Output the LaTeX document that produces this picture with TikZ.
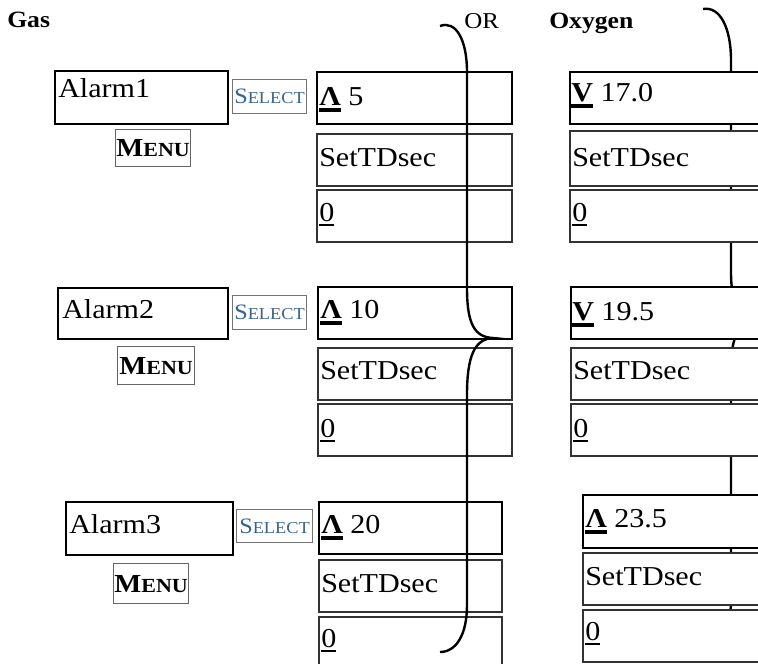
\documentclass[tikz,border=0pt]{standalone}
\usepackage{fontspec}
\setmainfont{Liberation Serif}[FakeStretch=1.1]
\definecolor{selblue}{HTML}{35628F}
\newcommand\thkul[1]{\setbox0\hbox{#1}\rlap{\rule[-5pt]{\wd0}{3pt}}\box0\relax}
\newcommand\thnul[1]{\setbox0\hbox{#1}\rlap{\rule[-3.6pt]{\wd0}{1.1pt}}\box0\relax}
\newcommand\selecttxt{{\fontsize{16.5}{17}\selectfont S\fontsize{12.5}{13}\selectfont ELECT}}
\newcommand\menutxt{{\bfseries\fontsize{19.5}{20}\selectfont M\fontsize{15}{16}\selectfont ENU}}
\tikzset{
  wh/.style 2 args={minimum width=#1*0.75pt, minimum height=#2*0.75pt, anchor=north west, inner sep=0pt},
  alarmbox/.style={draw=black, line width=1.6pt, fill=white},
  upbox/.style={draw=black, line width=1.6pt},
  valbox/.style={draw=black!80, line width=1.5pt},
  oupbox/.style={draw=black, line width=1.6pt, fill=white},
  ovalbox/.style={draw=black!80, line width=1.5pt, fill=white},
  selbox/.style={draw=black!55, line width=0.8pt, text=selblue},
  menubox/.style={draw=black!60, line width=1pt},
  txt/.style={anchor=base west, inner sep=0pt, font=\fontsize{20.5}{22}\selectfont},
  head/.style={anchor=base west, inner sep=0pt, font=\bfseries\fontsize{17.5}{20}\selectfont},
  brace/.style={draw=black, line width=1.8pt},
}
\begin{document}
\begin{tikzpicture}[x=0.75pt, y=-0.75pt]
\useasboundingbox (0,0) rectangle (758,664);
\clip (0,0) rectangle (758,664);
% headings
\node[head] (hgas) at (7,27) {Gas};
\node[anchor=base west, inner sep=0pt, font=\fontsize{17}{19}\selectfont] (hor) at (464,28) {OR};
\node[head] (hoxy) at (549,28) {Oxygen};

% ---- Gas column ----
% row 1
\node[alarmbox, wh={173}{53}] (a1) at (54,70) {};
\node[txt] at ([shift={(4,27)}]a1.north west) {Alarm1};
\node[selbox, wh={74}{34}] (s1) at (232,79) {\selecttxt};
\node[menubox, wh={75}{37}] (m1) at (115,129) {\menutxt};
\node[upbox, wh={195}{52}] (g1a) at (316,71) {};
\node[txt] at ([shift={(3,34)}]g1a.north west) {\thkul{\textbf{Λ}} 5};
\node[valbox, wh={195}{52}] (g1b) at (316,133) {};
\node[txt] at ([shift={(3,33)}]g1b.north west) {SetTDsec};
\node[valbox, wh={195}{52}] (g1c) at (316,189) {};
\node[txt] at ([shift={(3,32)}]g1c.north west) {\thnul{0}};
% row 2
\node[alarmbox, wh={170}{51}] (a2) at (57,287) {};
\node[txt] at ([shift={(5,31)}]a2.north west) {Alarm2};
\node[selbox, wh={74}{34}] (s2) at (232,295) {\selecttxt};
\node[menubox, wh={77}{38}] (m2) at (117,346) {\menutxt};
\node[upbox, wh={194}{52}] (g2a) at (317,286) {};
\node[txt] at ([shift={(3,32)}]g2a.north west) {\thkul{\textbf{Λ}} 10};
\node[valbox, wh={194}{52}] (g2b) at (317,347) {};
\node[txt] at ([shift={(3,32)}]g2b.north west) {SetTDsec};
\node[valbox, wh={194}{52}] (g2c) at (317,403) {};
\node[txt] at ([shift={(3,34)}]g2c.north west) {\thnul{0}};
% row 3
\node[alarmbox, wh={167}{53}] (a3) at (65,501) {};
\node[txt] at ([shift={(4,32)}]a3.north west) {Alarm3};
\node[selbox, wh={76}{33}] (s3) at (236,509) {\selecttxt};
\node[menubox, wh={75}{40}] (m3) at (113,563) {\menutxt};
\node[upbox, wh={183}{52}] (g3a) at (318,501) {};
\node[txt] at ([shift={(3,32)}]g3a.north west) {\thkul{\textbf{Λ}} 20};
\node[valbox, wh={183}{52}] (g3b) at (318,559) {};
\node[txt] at ([shift={(3,33)}]g3b.north west) {SetTDsec};
\node[valbox, wh={183}{52}] (g3c) at (318,616) {};
\node[txt] at ([shift={(3,31)}]g3c.north west) {\thnul{0}};

% gas brace (on top of gas boxes)
\draw[brace] (440,26) .. controls (456,20) and (467,40) .. (467,72)
  -- (467,288) .. controls (467,325) and (475,337) .. (493,338)
  .. controls (475,339) and (467,355) .. (467,395)
  -- (467,605) .. controls (467,635) and (456,652) .. (440,652);

% oxygen brace (behind oxygen boxes)
\draw[brace] (703,9) .. controls (720,6) and (731,28) .. (731,60)
  -- (731,272) .. controls (731,305) and (740,319) .. (758,320)
  .. controls (740,321) and (731,335) .. (731,368)
  -- (731,600) .. controls (731,630) and (720,645) .. (703,645);

% ---- Oxygen column ----
\node[oupbox, wh={200}{52}] (o1a) at (569,71) {};
\node[txt] at ([shift={(2,30)}]o1a.north west) {\thkul{\textbf{V}} 17.0};
\node[ovalbox, wh={200}{55}] (o1b) at (569,130) {};
\node[txt] at ([shift={(3,36)}]o1b.north west) {SetTDsec};
\node[ovalbox, wh={200}{52}] (o1c) at (569,189) {};
\node[txt] at ([shift={(3,32)}]o1c.north west) {\thnul{0}};

\node[oupbox, wh={200}{52}] (o2a) at (570,286) {};
\node[txt] at ([shift={(2,34)}]o2a.north west) {\thkul{\textbf{V}} 19.5};
\node[ovalbox, wh={200}{52}] (o2b) at (570,347) {};
\node[txt] at ([shift={(3,32)}]o2b.north west) {SetTDsec};
\node[ovalbox, wh={200}{52}] (o2c) at (570,403) {};
\node[txt] at ([shift={(3,34)}]o2c.north west) {\thnul{0}};

\node[oupbox, wh={200}{53}] (o3a) at (582,494) {};
\node[txt] at ([shift={(3,33)}]o3a.north west) {\thkul{\textbf{Λ}} 23.5};
\node[ovalbox, wh={200}{52}] (o3b) at (582,552) {};
\node[txt] at ([shift={(3,33)}]o3b.north west) {SetTDsec};
\node[ovalbox, wh={200}{52}] (o3c) at (582,609) {};
\node[txt] at ([shift={(3,31)}]o3c.north west) {\thnul{0}};
\end{tikzpicture}
\end{document}
